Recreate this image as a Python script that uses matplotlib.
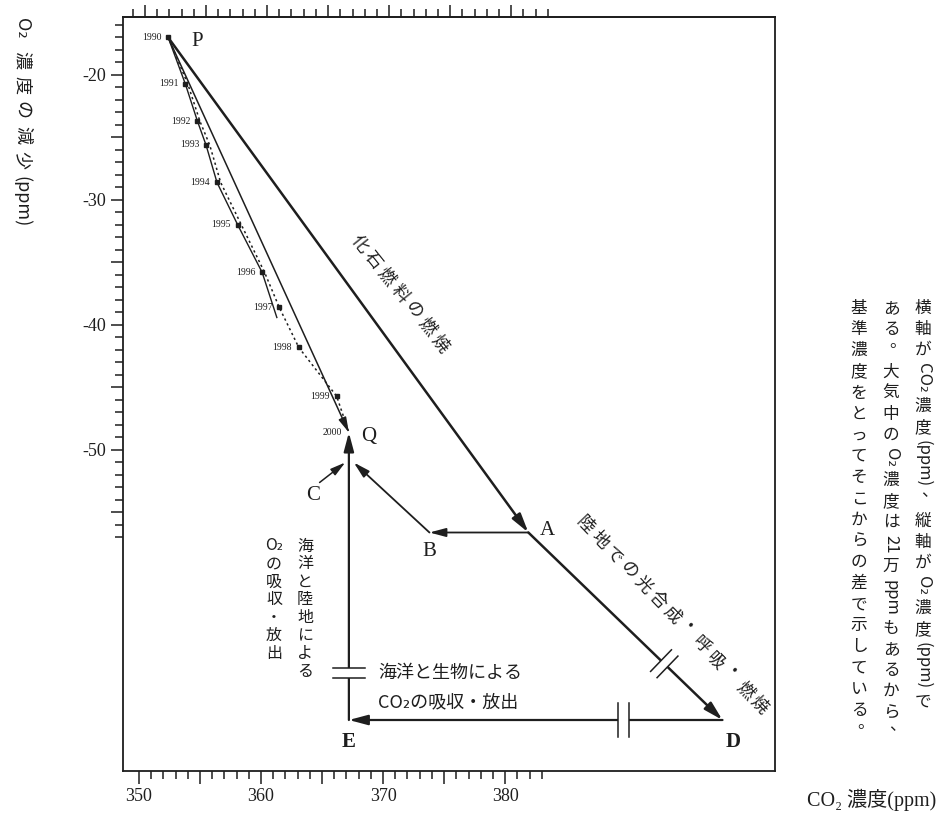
import re
import numpy as np
import matplotlib
matplotlib.use('Agg')
import matplotlib.pyplot as plt

JP = ['Noto Sans CJK JP', 'DejaVu Sans']
SERIF = ['Liberation Serif', 'DejaVu Serif', 'Noto Sans CJK JP']
INK = '#1e1e1e'
W, H = 941, 816

# yearly observations (CO2 ppm, O2 decrease ppm)
years = [1990, 1991, 1992, 1993, 1994, 1995, 1996, 1997, 1998, 1999, 2000]
obs_co2 = [352.4, 353.8, 354.8, 355.5, 356.4, 358.1, 360.1, 361.5, 363.1, 366.2, 367.2]
obs_o2 = [-17.0, -20.7, -23.7, -25.6, -28.6, -32.0, -35.8, -38.6, -41.8, -45.7, -48.6]
dotted_co2 = [352.4, 354.0, 355.0, 355.8, 356.7, 358.4, 360.3, 361.5, 363.1, 366.2, 367.2]
trace_co2 = [352.4, 353.8, 354.8, 355.5, 356.4, 358.1, 360.1, 361.3]
trace_o2 = [-17.0, -20.7, -23.7, -25.6, -28.6, -32.0, -35.8, -39.4]

# budget diagram points
P = (352.4, -17.0)
Q = (367.2, -48.6)
A = (381.9, -56.6)
B = (373.8, -56.6)
D = (397.8, -71.6)
E = (367.2, -71.6)
J_B = (367.6, -51.0)
J_C = (366.9, -51.0)
C0 = (364.8, -52.6)

y_major = [-55, -50, -45, -40, -35, -30, -25, -20]
y_labels = ['', '-50', '', '-40', '', '-30', '', '-20']
y_minor = [v for v in range(-57, -15) if v % 5]
x_major = [350, 355, 360, 365, 370, 375, 380]
x_labels = ['350', '', '360', '', '370', '', '380']
x_minor = [v for v in range(351, 384) if v % 5]
top_major = [350.5, 355.5, 360.5, 365.5, 370.5, 375.5, 380.5]
top_minor = [349.5 + k for k in range(35) if k % 5 != 1]

fig = plt.figure(figsize=(W / 100, H / 100), dpi=100)
ax = fig.add_axes([123 / W, 1 - 771 / H, 652 / W, 754 / H])
ax.set_xlim(348.7, 402.1)
ax.set_ylim(-75.68, -15.36)

for s in ax.spines.values():
    s.set_linewidth(1.3)
    s.set_color(INK)

ax.set_yticks(y_major, labels=y_labels)
ax.set_yticks(y_minor, minor=True)
ax.set_xticks(x_major, labels=x_labels)
ax.set_xticks(x_minor, minor=True)
ax.tick_params(which='major', length=9, width=1.1, color=INK, direction='out', pad=3)
ax.tick_params(which='minor', length=5.5, width=1.1, color=INK, direction='out')
for lab in ax.get_xticklabels() + ax.get_yticklabels():
    lab.set_family(SERIF)
    lab.set_fontsize(13)
    lab.set_color(INK)

sec = ax.secondary_xaxis('top')
sec.set_xticks(top_major, labels=[''] * len(top_major))
sec.set_xticks(top_minor, minor=True)
sec.tick_params(which='major', length=9, width=1.1, color=INK, direction='out')
sec.tick_params(which='minor', length=5.5, width=1.1, color=INK, direction='out')
sec.spines['top'].set_linewidth(1.3)
sec.spines['top'].set_color(INK)

# observed record
ax.plot(trace_co2, trace_o2, color=INK, lw=1.0, zorder=3)
ax.plot(dotted_co2, obs_o2, color=INK, lw=1.1, ls=(0, (1.5, 2)), zorder=3)
ax.plot(obs_co2[:-1], obs_o2[:-1], ls='none', marker='s', ms=2.6, color=INK, zorder=4)
for yr, xv, yv in zip(years, obs_co2, obs_o2):
    ax.annotate(str(yr), (xv, yv), xytext=(-5, 0), textcoords='offset points',
                ha='right', va='center', fontsize=7, family=SERIF, color=INK)


def arrow(p0, p1, lw, scale=15):
    ax.annotate('', xy=p1, xytext=p0, zorder=4,
                arrowprops=dict(arrowstyle='-|>,head_length=0.75,head_width=0.2',
                                lw=lw, color=INK, shrinkA=0, shrinkB=0,
                                mutation_scale=scale))


arrow(P, Q, 1.1, 12)
arrow(P, A, 1.8)
arrow(A, D, 1.8)
arrow(D, E, 1.6)
arrow(E, Q, 1.6)
arrow(A, B, 1.3, 13)
arrow(B, J_B, 1.3, 13)
arrow(C0, J_C, 1.1, 12)

for name, pt, off, bold in [('P', P, (21, -3), False), ('Q', Q, (14, -3), False),
                            ('A', A, (14, 1.5), False), ('B', B, (0, -13.5), False),
                            ('C', C0, (-5, -9.5), False), ('D', D, (8, -16), True),
                            ('E', E, (0, -16), True)]:
    ax.annotate(name, pt, xytext=off, textcoords='offset points', ha='center', va='center',
                fontsize=15, family=SERIF, color=INK, fontweight='bold' if bold else 'normal')


def break_mark(p0, p1, frac, gap, half):
    a = ax.transData.transform(p0)
    b = ax.transData.transform(p1)
    u = (b - a) / np.hypot(*(b - a))
    n = np.array([-u[1], u[0]])
    c = a + (b - a) * frac
    inv = ax.transData.inverted()
    g = inv.transform([c - u * gap / 2, c + u * gap / 2])
    ax.plot(g[:, 0], g[:, 1], color='white', lw=4, zorder=5, solid_capstyle='butt')
    for s in (-1, 1):
        m = c + s * u * gap / 2
        e = inv.transform([m - n * half, m + n * half])
        ax.plot(e[:, 0], e[:, 1], color=INK, lw=1.1, zorder=6)


break_mark(E, Q, 0.165, 10, 16)
break_mark(D, E, 0.265, 11, 17)
break_mark(A, D, 0.70, 9, 15)

renderer = fig.canvas.get_renderer()
LATIN = re.compile(r'[A-Za-z0-9()₂]+|.')


def text_run(px, py, s, size, angle, gap, tate=False, latin_rot=True, family=JP):
    rad = np.deg2rad(angle)
    ux, uy = np.cos(rad), -np.sin(rad)
    em = size * 100 / 72
    pos = 0.0
    for tok in LATIN.findall(s):
        if tok == ' ':
            pos += em * 0.3
            continue
        latin = tok[0].isascii() or tok[0] == '₂'
        t = fig.text(0, 0, tok, fontsize=size, family=family, color=INK,
                     ha='center', va='center')
        w = t.get_window_extent(renderer).width
        if tate and not (latin and latin_rot):
            rot, adv = 0, em
        else:
            rot, adv = angle, w
        cx = px + ux * (pos + adv / 2)
        cy = py + uy * (pos + adv / 2)
        if tate and tok in '、。':
            cx += 0.4 * em
            cy -= 0.5 * em
        t.set_rotation(rot)
        t.set_position((cx / W, 1 - cy / H))
        pos += adv + gap


text_run(22, 18, 'O₂ 濃度の減少(ppm)', 13, -90, 7)
text_run(354, 237, '化石燃料の燃焼', 12.5, -51.3, 4)
text_run(579, 519, '陸地での光合成・呼吸・燃焼', 12.5, -46, 3.5)
text_run(305, 538, '海洋と陸地による', 11.5, -90, 2, tate=True)
text_run(274, 538, 'O₂の吸収・放出', 11.5, -90, 2, tate=True, latin_rot=False)
text_run(923, 300, '横軸がCO₂濃度(ppm)、縦軸がO₂濃度(ppm)で', 12, -90, 4.5, tate=True)
text_run(891, 300, 'ある。大気中のO₂濃度は21万ppmもあるから、', 12, -90, 4.5, tate=True)
text_run(859, 300, '基準濃度をとってそこからの差で示している。', 12, -90, 4.5, tate=True)

fig.text(378 / W, 1 - 673 / H, '海洋と生物による', fontsize=13, family=JP,
         color=INK, ha='left', va='center')
fig.text(378 / W, 1 - 702 / H, 'CO₂の吸収・放出', fontsize=13, family=JP,
         color=INK, ha='left', va='center')
fig.text(936 / W, 1 - 800 / H, 'CO₂ 濃度(ppm)', fontsize=14.5, family=SERIF,
         color=INK, ha='right', va='center')

fig.savefig('out.png', dpi=100)
